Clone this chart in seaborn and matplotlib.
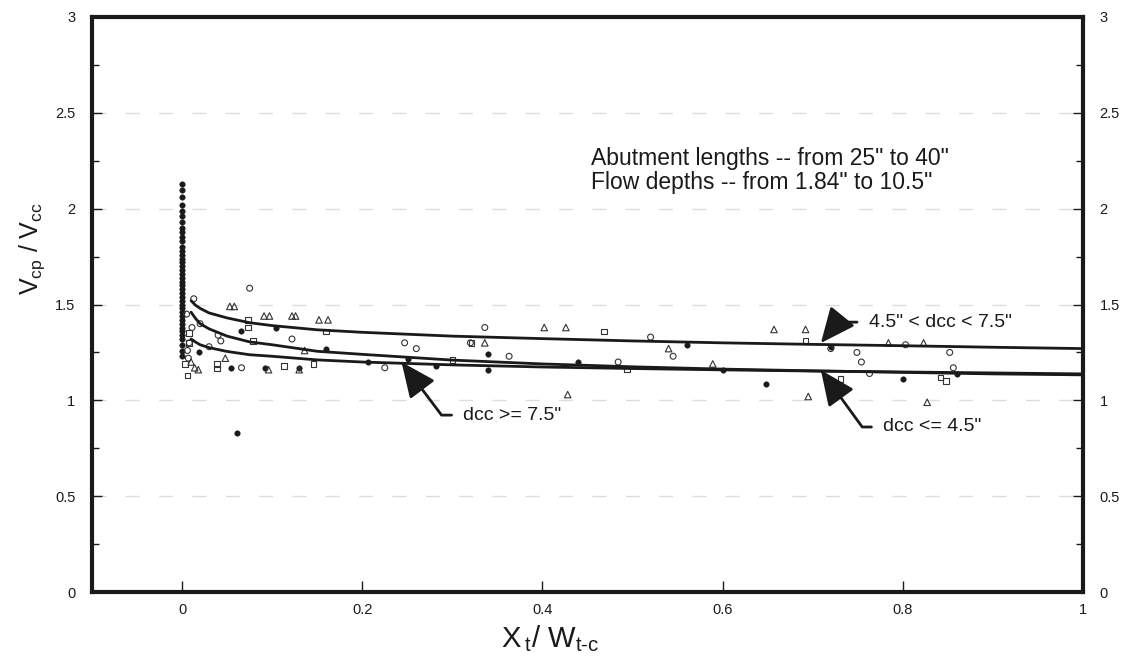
import numpy as np
import pandas as pd
import matplotlib
matplotlib.use("Agg")
import matplotlib.pyplot as plt
from matplotlib.ticker import MultipleLocator
import seaborn as sns

# ---------------------------------------------------------------------------
# data
# ---------------------------------------------------------------------------
# filled dots: dense column at Xt/Wt-c = 0
col_y = [2.13, 2.10, 2.06, 2.02, 1.99, 1.96, 1.93, 1.90, 1.88, 1.85, 1.83, 1.80,
         1.78, 1.76, 1.74, 1.72, 1.70, 1.68, 1.66, 1.64, 1.62, 1.60, 1.58, 1.56,
         1.54, 1.52, 1.50, 1.48, 1.46, 1.44, 1.42, 1.40, 1.38, 1.36, 1.34, 1.32,
         1.29, 1.26, 1.23]
col_x = [0.0] * len(col_y)

# other filled dots
dot_x = [0.104, 0.054, 0.092, 0.130, 0.251, 0.340, 0.340, 0.282, 0.206, 0.648,
         0.800, 0.061, 0.019, 0.065, 0.160, 0.440, 0.600, 0.860, 0.560, 0.720]
dot_y = [1.38, 1.17, 1.17, 1.17, 1.215, 1.24, 1.16, 1.18, 1.20, 1.085,
         1.11, 0.83, 1.25, 1.36, 1.27, 1.20, 1.16, 1.14, 1.29, 1.28]

# open circles
circ_x = [0.075, 0.122, 0.040, 0.043, 0.011, 0.013, 0.008, 0.006, 0.007, 0.247,
          0.260, 0.225, 0.320, 0.336, 0.363, 0.520, 0.545, 0.484, 0.720, 0.749,
          0.754, 0.763, 0.852, 0.856, 0.803, 0.020, 0.030, 0.066, 0.005]
circ_y = [1.585, 1.32, 1.34, 1.31, 1.38, 1.53, 1.30, 1.26, 1.22, 1.30,
          1.27, 1.17, 1.30, 1.38, 1.23, 1.33, 1.23, 1.20, 1.27, 1.25,
          1.20, 1.14, 1.25, 1.17, 1.29, 1.40, 1.28, 1.17, 1.45]

# open squares
sq_x = [0.073, 0.073, 0.079, 0.039, 0.039, 0.113, 0.146, 0.160, 0.300, 0.468,
        0.321, 0.494, 0.692, 0.731, 0.842, 0.848, 0.008, 0.008, 0.006, 0.003]
sq_y = [1.42, 1.38, 1.31, 1.19, 1.165, 1.18, 1.19, 1.36, 1.21, 1.36,
        1.30, 1.16, 1.31, 1.11, 1.12, 1.10, 1.35, 1.30, 1.13, 1.19]

# open triangles
tri_x = [0.053, 0.058, 0.091, 0.097, 0.122, 0.126, 0.152, 0.162, 0.136, 0.096,
         0.130, 0.048, 0.014, 0.018, 0.336, 0.402, 0.426, 0.428, 0.657, 0.692,
         0.589, 0.695, 0.540, 0.827, 0.823, 0.784, 0.010]
tri_y = [1.49, 1.49, 1.44, 1.44, 1.44, 1.44, 1.42, 1.42, 1.26, 1.16,
         1.16, 1.22, 1.17, 1.16, 1.30, 1.38, 1.38, 1.03, 1.37, 1.37,
         1.19, 1.02, 1.27, 0.99, 1.30, 1.30, 1.20]

# fitted curves for the three dcc groups
curve_x = [0.01, 0.015, 0.02, 0.03, 0.05, 0.075, 0.1, 0.15, 0.2, 0.3, 0.4,
           0.5, 0.6, 0.7, 0.8, 0.9, 1.0]
curve_mid_dcc = [1.52, 1.496, 1.48, 1.456, 1.43, 1.405, 1.39, 1.368, 1.355,
                 1.335, 1.322, 1.31, 1.30, 1.292, 1.285, 1.277, 1.27]   # 4.5" < dcc < 7.5"
curve_small_dcc = [1.46, 1.427, 1.40, 1.373, 1.335, 1.305, 1.29, 1.256, 1.24,
                   1.21, 1.19, 1.175, 1.163, 1.154, 1.146, 1.138, 1.133]  # dcc <= 4.5"
curve_large_dcc = [1.32, 1.304, 1.29, 1.275, 1.255, 1.238, 1.23, 1.211, 1.20,
                   1.185, 1.174, 1.166, 1.159, 1.153, 1.148, 1.143, 1.138]  # dcc >= 7.5"

# ---------------------------------------------------------------------------
# plot
# ---------------------------------------------------------------------------
sns.set_style("ticks")
plt.rcParams['font.family'] = ['Liberation Sans', 'DejaVu Sans']
plt.rcParams['mathtext.default'] = 'regular'

fig = plt.figure(figsize=(11.27, 6.64), dpi=100)
ax = fig.add_axes([0.0816, 0.1084, 0.8794, 0.866])

ink = '#1a1a1a'

sns.scatterplot(x=col_x + dot_x, y=col_y + dot_y, ax=ax, marker='o', s=16,
                color=ink, edgecolor=ink, linewidth=0.3, zorder=3)
sns.scatterplot(x=circ_x, y=circ_y, ax=ax, marker='o', s=18,
                facecolors='none', edgecolor='#333333', linewidth=0.8, zorder=3)
sns.scatterplot(x=sq_x, y=sq_y, ax=ax, marker='s', s=16,
                facecolors='none', edgecolor='#333333', linewidth=0.8, zorder=3)
sns.scatterplot(x=tri_x, y=tri_y, ax=ax, marker='^', s=22,
                facecolors='none', edgecolor='#333333', linewidth=0.8, zorder=3)

for yy in (curve_mid_dcc, curve_small_dcc, curve_large_dcc):
    sns.lineplot(x=curve_x, y=yy, ax=ax, color=ink, linewidth=2.0, zorder=4)

ax.set_xlim(-0.1, 1.0)
ax.set_ylim(0, 3)
ax.yaxis.set_minor_locator(MultipleLocator(0.25))
ax.set_xticks([0, 0.2, 0.4, 0.6, 0.8, 1.0])
ax.set_xticklabels(['0', '0.2', '0.4', '0.6', '0.8', '1'])
ax.set_yticks([0, 0.5, 1, 1.5, 2, 2.5, 3])
ax.set_yticklabels(['0', '0.5', '1', '1.5', '2', '2.5', '3'])

ax.grid(axis='y', which='major', color='#dddddd', linestyle=(0, (10, 14)), linewidth=1.0)

for side in ['left', 'right', 'top', 'bottom']:
    ax.spines[side].set_visible(True)
    ax.spines[side].set_linewidth(3.0)
    ax.spines[side].set_color(ink)

ax.tick_params(axis='x', direction='in', length=8, width=1, pad=8,
               labelsize=10.5, top=False, colors=ink)
ax.tick_params(axis='y', which='major', direction='in', length=7, width=1,
               left=True, right=True, labelleft=True, labelright=True,
               labelsize=10.5, pad=12, colors=ink)
ax.tick_params(axis='y', which='minor', direction='in', length=5, width=1,
               left=True, right=True, colors=ink)

ax.set_xlabel('X$_{\u2009t}$/ W$_{t\u2010c}$', fontsize=21, color=ink)
ax.set_ylabel('V$_{cp}$ / V$_{cc}$', fontsize=18, color=ink)
ax.xaxis.set_label_coords(0.462, -0.055)
ax.yaxis.set_label_coords(-0.045, 0.598)

ax.text(0.454, 2.20, 'Abutment lengths -- from 25" to 40"\nFlow depths -- from 1.84" to 10.5"',
        fontsize=16.5, color=ink, va='center', ha='left', linespacing=1.05)

arrow_kw = dict(arrowstyle='-|>,head_length=0.9,head_width=0.4', color=ink,
                lw=2.0, mutation_scale=24, shrinkA=6, shrinkB=0)

ax.annotate('4.5" < dcc < 7.5"', xy=(0.709, 1.299), xytext=(0.762, 1.408),
            fontsize=14, color=ink, va='center', ha='left',
            arrowprops=dict(**arrow_kw, relpos=(0, 0.5),
                            connectionstyle='angle,angleA=0,angleB=51,rad=0'))
ax.annotate('dcc <= 4.5"', xy=(0.709, 1.158), xytext=(0.778, 0.861),
            fontsize=14, color=ink, va='center', ha='left',
            arrowprops=dict(**arrow_kw, relpos=(0, 0.5),
                            connectionstyle='angle,angleA=0,angleB=126,rad=0'))
ax.annotate('dcc >= 7.5"', xy=(0.2436, 1.20), xytext=(0.312, 0.923),
            fontsize=14, color=ink, va='center', ha='left',
            arrowprops=dict(**arrow_kw, relpos=(0, 0.5),
                            connectionstyle='angle,angleA=0,angleB=127,rad=0'))

plt.savefig('out.png', dpi=100)
